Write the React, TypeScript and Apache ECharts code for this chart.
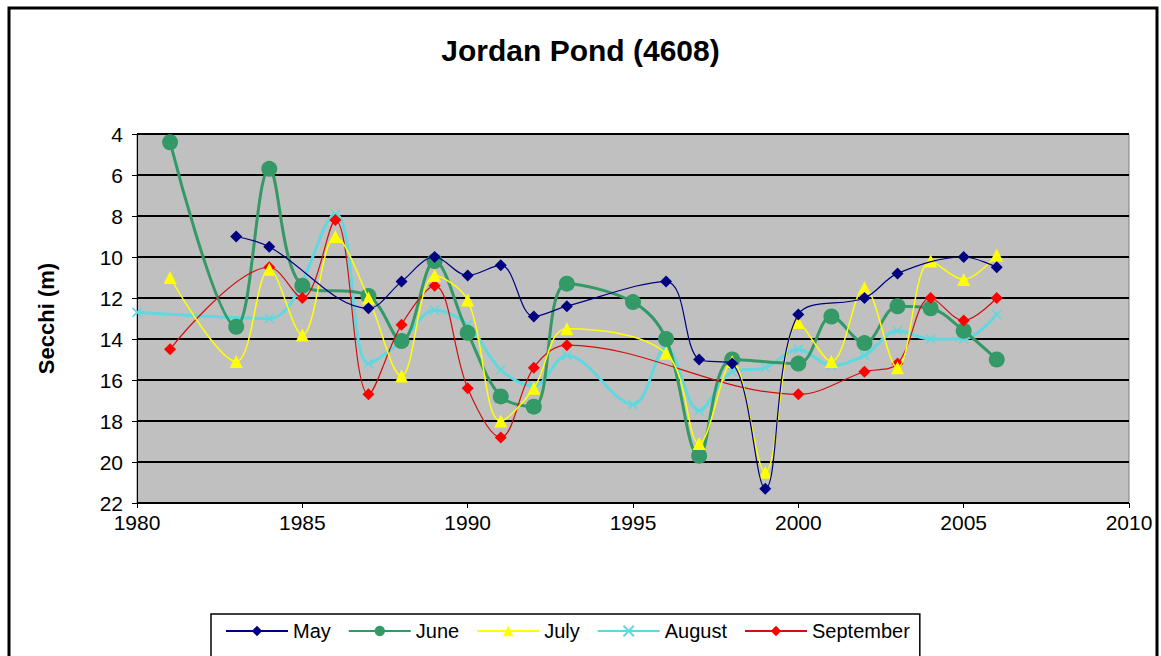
import React, { useEffect, useRef } from "react";
import * as echarts from "echarts";

const mayYears = [1983, 1984, 1987, 1988, 1989, 1990, 1991, 1992, 1993, 1996, 1997, 1998, 1999, 2000, 2002, 2003, 2005, 2006];
const mayValues = [9.0, 9.5, 12.5, 11.2, 10.0, 10.9, 10.4, 12.9, 12.4, 11.2, 15.0, 15.2, 21.3, 12.8, 12.0, 10.8, 10.0, 10.5];

const juneYears = [1981, 1983, 1984, 1985, 1987, 1988, 1989, 1990, 1991, 1992, 1993, 1995, 1996, 1997, 1998, 2000, 2001, 2002, 2003, 2004, 2005, 2006];
const juneValues = [4.4, 13.4, 5.7, 11.4, 11.9, 14.1, 10.2, 13.7, 16.8, 17.3, 11.3, 12.2, 14.0, 19.7, 15.0, 15.2, 12.9, 14.2, 12.4, 12.5, 13.6, 15.0];

const julyYears = [1981, 1983, 1984, 1985, 1986, 1987, 1988, 1989, 1990, 1991, 1992, 1993, 1996, 1997, 1998, 1999, 2000, 2001, 2002, 2003, 2004, 2005, 2006];
const julyValues = [11.0, 15.1, 10.6, 13.8, 9.0, 12.0, 15.8, 10.9, 12.1, 18.0, 16.4, 13.5, 14.7, 19.1, 15.1, 20.5, 13.2, 15.1, 11.5, 15.4, 10.2, 11.1, 9.9];

const augustYears = [1980, 1984, 1986, 1987, 1988, 1989, 1990, 1991, 1992, 1993, 1995, 1996, 1997, 1998, 1999, 2000, 2001, 2002, 2003, 2004, 2005, 2006];
const augustValues = [12.7, 13.0, 7.9, 15.2, 14.1, 12.6, 13.3, 15.5, 16.3, 14.8, 17.2, 14.4, 17.5, 15.6, 15.4, 14.5, 15.3, 14.8, 13.6, 14.0, 14.0, 12.8];

const septemberYears = [1981, 1984, 1985, 1986, 1987, 1988, 1989, 1990, 1991, 1992, 1993, 2000, 2002, 2003, 2004, 2005, 2006];
const septemberValues = [14.5, 10.5, 12.0, 8.2, 16.7, 13.3, 11.4, 16.4, 18.8, 15.4, 14.3, 16.7, 15.6, 15.2, 12.0, 13.1, 12.0];

const yTicks = [4, 6, 8, 10, 12, 14, 16, 18, 20, 22];
const xTicks = [1980, 1985, 1990, 1995, 2000, 2005, 2010];

const pairs = (xs: number[], ys: number[]) => xs.map((x, i) => [x, ys[i]]);

export default function App() {
  const ref = useRef<HTMLDivElement>(null);
  useEffect(() => {
    if (!ref.current) return;
    const chart = echarts.init(ref.current, null, { renderer: "svg" });
    const font = "Liberation Sans, Arial, sans-serif";
    chart.setOption({
      animation: false,
      backgroundColor: "#ffffff",
      title: {
        text: "Jordan Pond (4608)",
        left: "center",
        top: 30,
        textStyle: { fontFamily: font, fontSize: 30, fontWeight: "bold", color: "#000" },
      },
      graphic: [
        {
          type: "rect",
          shape: { x: 9, y: 8, width: 1148, height: 700 },
          style: { fill: "none", stroke: "#000", lineWidth: 3 },
          silent: true,
        },
      ],
      grid: { left: 137, top: 134, width: 992, height: 369, show: true, backgroundColor: "#C0C0C0", borderColor: "#808080", borderWidth: 1 },
      legend: {
        left: 211,
        top: 614,
        padding: [7, 10, 30, 14],
        borderColor: "#000",
        borderWidth: 1.5,
        itemWidth: 62,
        itemHeight: 13,
        itemGap: 17,
        textStyle: { fontFamily: font, fontSize: 20, color: "#000" },
        data: ["May", "June", "July", "August", "September"],
      },
      xAxis: {
        type: "value",
        min: xTicks[0],
        max: xTicks[xTicks.length - 1],
        interval: 5,
        axisLine: { show: true, lineStyle: { color: "#000", width: 1 } },
        axisTick: { show: true, length: 5, lineStyle: { color: "#000" } },
        splitLine: { show: false },
        axisLabel: { fontFamily: font, fontSize: 21, color: "#000", margin: 9, formatter: (v: number) => String(v) },
      },
      yAxis: {
        type: "value",
        inverse: true,
        min: yTicks[0],
        max: yTicks[yTicks.length - 1],
        interval: 2,
        name: "Secchi (m)",
        nameLocation: "middle",
        nameGap: 80,
        nameRotate: 90,
        nameTextStyle: { fontFamily: font, fontSize: 22, fontWeight: "bold", color: "#000" },
        axisLine: { show: true, lineStyle: { color: "#000", width: 1 } },
        axisTick: { show: true, length: 5, lineStyle: { color: "#000" } },
        splitLine: { show: true, lineStyle: { color: "#000", width: 2 } },
        axisLabel: { fontFamily: font, fontSize: 21, color: "#000", margin: 14 },
      },
      series: [
        {
          name: "May",
          type: "line",
          smooth: 0.35,
          data: pairs(mayYears, mayValues),
          symbol: "diamond",
          symbolSize: 12,
          itemStyle: { color: "#000080" },
          lineStyle: { color: "#000080", width: 1.2 },
          z: 5,
        },
        {
          name: "June",
          type: "line",
          smooth: 0.35,
          data: pairs(juneYears, juneValues),
          symbol: "circle",
          symbolSize: 16,
          itemStyle: { color: "#339966" },
          lineStyle: { color: "#339966", width: 3 },
          z: 2,
        },
        {
          name: "July",
          type: "line",
          smooth: 0.35,
          data: pairs(julyYears, julyValues),
          symbol: "triangle",
          symbolSize: 13,
          itemStyle: { color: "#FFFF00" },
          lineStyle: { color: "#FFFF00", width: 1.5 },
          z: 4,
        },
        {
          name: "August",
          type: "line",
          smooth: 0.35,
          data: pairs(augustYears, augustValues),
          symbol: "path://M0,0L10,10M10,0L0,10",
          symbolSize: 9,
          itemStyle: { color: "#5FD8DF", borderColor: "#5FD8DF", borderWidth: 1.5 },
          lineStyle: { color: "#5FD8DF", width: 3 },
          z: 1,
        },
        {
          name: "September",
          type: "line",
          smooth: 0.35,
          data: pairs(septemberYears, septemberValues),
          symbol: "diamond",
          symbolSize: 12,
          itemStyle: { color: "#FF0000" },
          lineStyle: { color: "#D01010", width: 1.2 },
          z: 3,
        },
      ],
    });
    return () => chart.dispose();
  }, []);
  return <div ref={ref} style={{ position: "fixed", left: 0, top: 0, width: 1161, height: 656 }} />;
}
